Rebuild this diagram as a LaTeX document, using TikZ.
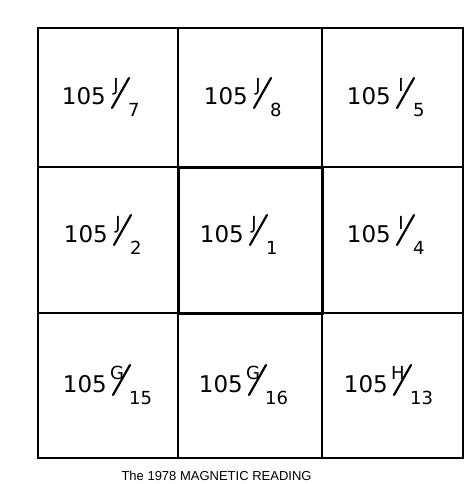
\documentclass[tikz,border=0pt]{standalone}
\usepackage{fontspec}
\setmainfont{Liberation Sans}
\newfontfamily\stencil{DejaVu Sans}
\usetikzlibrary{calc}

% one sheet number: name, x, y (base of "105", right end), letter, number
\newcommand{\sheetref}[5]{%
  \node[numtxt, anchor=base east] (#1) at (#2,#3) {105};
  \node[idxtxt, anchor=base] (#1-up) at ($(#1.base east)+(10,-13)$) {#4};
  \node[idxtxt, anchor=base west] (#1-dn) at ($(#1.base east)+(22,12)$) {#5};
  \draw[slash] ($(#1.base east)+(6,3)$) -- ($(#1.base east)+(23,-27)$);
}

\begin{document}
\begin{tikzpicture}[x=1pt, y=-1pt,
    numtxt/.style={inner sep=0pt, font=\stencil\fontsize{23}{23}\selectfont},
    idxtxt/.style={inner sep=0pt, font=\stencil\fontsize{18}{18}\selectfont},
    slash/.style={line width=2.2pt, line cap=round},
    grid/.style={line width=1.4pt},
    centre/.style={line width=3pt}]
  \useasboundingbox (0,0) rectangle (474,484);

  % the nine sheets
  \draw[grid] (38,28) rectangle (463,458);
  \draw[grid] (178,28) -- (178,458);
  \draw[grid] (322,28) -- (322,458);
  \draw[grid] (38,167) -- (463,167);
  \draw[grid] (38,313) -- (463,313);
  \draw[centre] (178,167) rectangle (322,313);

  % top row
  \sheetref{a}{106}{105}{J}{7}
  \sheetref{b}{248}{105}{J}{8}
  \sheetref{c}{391}{105}{I}{5}
  % middle row
  \sheetref{d}{108}{242}{J}{2}
  \sheetref{e}{244}{242}{J}{1}
  \sheetref{f}{391}{242}{I}{4}
  % bottom row
  \sheetref{g}{107}{392}{G}{15}
  \sheetref{h}{243}{392}{G}{16}
  \sheetref{i}{388}{392}{H}{13}

  \node[anchor=base west, font=\fontsize{13}{13}\selectfont] (caption) at (118,480)
    {The 1978 MAGNETIC READING};
\end{tikzpicture}
\end{document}
